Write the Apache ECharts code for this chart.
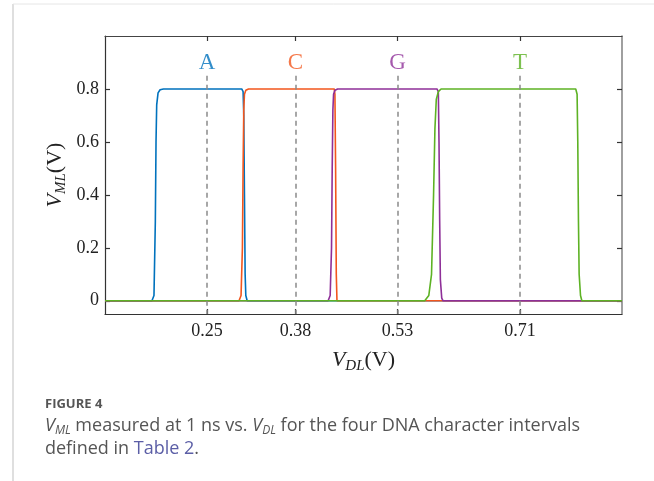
<!DOCTYPE html>
<html>
<head>
<meta charset="utf-8">
<script src="https://cdn.jsdelivr.net/npm/echarts@6/dist/echarts.min.js"></script>
<style>
    html, body { margin: 0; padding: 0; background: #fff; }
    #chart { width: 654px; height: 481px; }
</style>
</head>
<body>
<div id="chart"></div>
<script>
    // tick positions / labels
    var xTicks = [0.25, 0.38, 0.53, 0.71];
    var yTicks = [0, 0.2, 0.4, 0.6, 0.8];
    var letters = ['A', 'C', 'G', 'T'];
    var letterY = 0.9;
    var guideTop = 0.85;
    var guideBottom = -0.05;

    // V_ML vs V_DL
    var vmlA = [[0.10,0],[0.169,0],[0.172,0.02],[0.174,0.3],[0.175,0.6],[0.176,0.74],[0.178,0.785],[0.181,0.797],[0.186,0.8],
        [0.301,0.8],[0.303,0.79],[0.304,0.7],[0.305,0.4],[0.306,0.1],[0.307,0.02],[0.309,0],[0.86,0]];
    var vmlC = [[0.10,0],[0.297,0],[0.300,0.02],[0.302,0.2],[0.303,0.5],[0.304,0.72],[0.305,0.78],[0.307,0.795],[0.311,0.8],
        [0.437,0.8],[0.438,0.78],[0.439,0.5],[0.440,0.1],[0.441,0],[0.86,0]];
    var vmlG = [[0.10,0],[0.428,0],[0.431,0.02],[0.433,0.2],[0.434,0.5],[0.435,0.72],[0.436,0.78],[0.438,0.795],[0.442,0.8],
        [0.588,0.8],[0.590,0.79],[0.591,0.6],[0.592,0.3],[0.593,0.08],[0.595,0.01],[0.597,0],[0.86,0]];
    var vmlT = [[0.10,0],[0.570,0],[0.576,0.02],[0.580,0.1],[0.583,0.4],[0.585,0.65],[0.587,0.76],[0.590,0.79],[0.594,0.8],
        [0.792,0.8],[0.794,0.78],[0.795,0.6],[0.796,0.3],[0.797,0.1],[0.799,0.02],[0.801,0],[0.86,0]];

    var colors = ['#0072BD', '#F2561D', '#8E2F98', '#5DB224'];
    var serif = '"Liberation Serif", "DejaVu Serif", serif';
    var sans = '"Open Sans", "Noto Sans", sans-serif';

    var chart = echarts.init(document.getElementById('chart'));

    function curve(name, data, color) {
        return {
            name: name,
            type: 'line',
            data: data,
            symbol: 'none',
            xAxisIndex: 0,
            yAxisIndex: 0,
            lineStyle: { color: color, width: 1.6 },
            z: 3
        };
    }

    var nameRich = {
        i: { fontFamily: serif, fontStyle: 'italic', fontSize: 22, color: '#222' },
        s: { fontFamily: serif, fontStyle: 'italic', fontSize: 15, color: '#222', padding: [12, 0, 0, 0] },
        n: { fontFamily: serif, fontSize: 22, color: '#222' }
    };

    var tickCommon = { inside: true, length: 5, lineStyle: { color: '#333', width: 1.2 } };

    var option = {
        animation: false,
        grid: { left: 105, top: 36, width: 517, height: 278 },
        xAxis: [
            {
                type: 'value', min: 0.1, max: 0.86, position: 'bottom',
                axisLine: { onZero: false, lineStyle: { color: '#333', width: 1.2 } },
                axisTick: Object.assign({ customValues: xTicks }, tickCommon),
                axisLabel: { customValues: xTicks, fontFamily: serif, fontSize: 18, color: '#222', margin: 8 },
                splitLine: { show: false },
                name: '{i|V}{s|DL}{n|(V)}',
                nameLocation: 'middle',
                nameGap: 33,
                nameTextStyle: { rich: nameRich }
            },
            {
                type: 'value', min: 0.1, max: 0.86, position: 'top',
                axisLine: { onZero: false, lineStyle: { color: '#444', width: 1.2 } },
                axisTick: Object.assign({ customValues: xTicks }, tickCommon),
                axisLabel: { show: false },
                splitLine: { show: false }
            }
        ],
        yAxis: [
            {
                type: 'value', min: -0.05, max: 1.0, position: 'left',
                axisLine: { show: true, onZero: false, lineStyle: { color: '#333', width: 1.2 } },
                axisTick: Object.assign({ show: true, customValues: yTicks }, tickCommon),
                axisLabel: { customValues: yTicks, fontFamily: serif, fontSize: 18, color: '#222', margin: 6 },
                splitLine: { show: false },
                name: '{i|V}{s|ML}{n|(V)}',
                nameLocation: 'middle',
                nameGap: 36,
                nameMoveOverlap: false,
                nameTextStyle: { rich: nameRich }
            },
            {
                type: 'value', min: -0.05, max: 1.0, position: 'right',
                axisLine: { show: true, onZero: false, lineStyle: { color: '#888', width: 1.6 } },
                axisTick: Object.assign({ show: true, customValues: yTicks }, tickCommon),
                axisLabel: { show: false },
                splitLine: { show: false }
            }
        ],
        series: [
            {
                name: 'guides',
                type: 'scatter',
                symbolSize: 0,
                data: xTicks.map(function (x, i) {
                    return {
                        value: [x, letterY],
                        label: {
                            show: true, position: 'inside', formatter: letters[i],
                            color: colors[i], fontFamily: serif, fontSize: 23
                        }
                    };
                }),
                markLine: {
                    silent: true,
                    symbol: 'none',
                    label: { show: false },
                    lineStyle: { color: '#8a8a8a', type: [5, 4], width: 1.5 },
                    data: xTicks.map(function (x) {
                        return [{ coord: [x, guideTop] }, { coord: [x, guideBottom] }];
                    })
                },
                z: 2
            },
            curve('A', vmlA, colors[0]),
            curve('C', vmlC, colors[1]),
            curve('G', vmlG, colors[2]),
            curve('T', vmlT, colors[3])
        ],
        graphic: [
            { type: 'line', shape: { x1: 13, y1: 4, x2: 13, y2: 481 }, style: { stroke: '#d4d4d4', lineWidth: 1.5 } },
            { type: 'line', shape: { x1: 13, y1: 4, x2: 654, y2: 4 }, style: { stroke: '#e6e6e6', lineWidth: 1 } },
            {
                type: 'text', x: 45, y: 398,
                style: { text: 'FIGURE 4', font: 'bold 13px ' + sans, fill: '#555' }
            },
            {
                type: 'text', x: 45, y: 415,
                style: {
                    text: '{i|V}{s|ML}{t| measured at 1 ns vs. }{i|V}{s|DL}{t| for the four DNA character intervals}',
                    rich: {
                        t: { fontFamily: sans, fontSize: 18, fill: '#555' },
                        i: { fontFamily: sans, fontSize: 18, fontStyle: 'italic', fill: '#555' },
                        s: { fontFamily: sans, fontSize: 12, fontStyle: 'italic', fill: '#555', padding: [10, 0, 0, 0] }
                    }
                }
            },
            {
                type: 'text', x: 45, y: 440,
                style: {
                    text: '{t|defined in }{l|Table 2}{t|.}',
                    rich: {
                        t: { fontFamily: sans, fontSize: 18, fill: '#555' },
                        l: { fontFamily: sans, fontSize: 18, fill: '#5B5EA6' }
                    }
                }
            }
        ]
    };

    chart.setOption(option);
</script>
</body>
</html>
